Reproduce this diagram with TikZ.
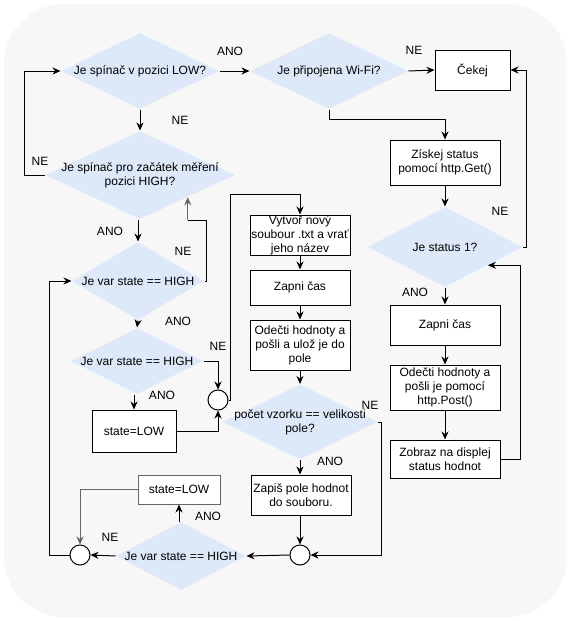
\documentclass[tikz,border=0pt]{standalone}
\usepackage{fontspec}
\setmainfont{Liberation Sans}
\usetikzlibrary{shapes.geometric,arrows.meta,calc}
\definecolor{bgcol}{HTML}{F7F7F8}
\definecolor{diacol}{HTML}{DDE8F9}

\begin{document}
\begin{tikzpicture}[x=1pt, y=-1pt, font=\fontsize{12}{14}\selectfont, line width=1pt,
		>={Stealth[length=8pt,width=7pt]},
		dia/.style={diamond, aspect=2, fill=diacol, inner sep=-10pt, align=center},
		box/.style={rectangle, draw, fill=white, inner sep=0pt, align=center},
		junc/.style={circle, draw, fill=white, inner sep=0pt, minimum size=20pt},
		lbl/.style={inner sep=0pt},
		grayln/.style={draw=black!60}]
		\fill[bgcol, rounded corners=60pt] (4,4) rectangle (567,617);
		\useasboundingbox (0,0) rectangle (571,621);
		\node[dia, minimum width=158pt, minimum height=76pt] (q1) at (140,71) {Je spínač v pozici LOW?};
		\node[dia, minimum width=158pt, minimum height=76pt] (q2) at (329,71) {Je připojena Wi-Fi?};
		\node[box, minimum width=75pt, minimum height=40pt] (wait) at (472.5,70) {Čekej};
		\node[box, minimum width=110pt, minimum height=45pt] (get) at (445,162.5) {Získej status\\pomocí http.Get()};
		\node[dia, minimum width=155pt, minimum height=80pt] (q3) at (445,247) {Je status 1?};
		\node[box, minimum width=110pt, minimum height=40pt] (timeR) at (445,325) {Zapni čas};
		\node[box, minimum width=110pt, minimum height=45pt] (readR) at (445,387.5) {Odečti hodnoty a\\pošli je pomocí\\http.Post()};
		\node[box, minimum width=110pt, minimum height=38pt] (show) at (445,459) {Zobraz na displej\\status hodnot};
		\node[dia, minimum width=190pt, minimum height=88pt] (q4) at (140,175) {Je spínač pro začátek měření\\pozici HIGH?};
		\node[dia, minimum width=132pt, minimum height=78pt] (q5) at (138,281) {Je var state == HIGH};
		\node[dia, minimum width=132pt, minimum height=66pt] (q6) at (137,361) {Je var state == HIGH};
		\node[box, minimum width=84pt, minimum height=42pt] (low1) at (134,431) {state=LOW};
		\node[junc] (c1) at (218,400) {};
		\node[box, minimum width=100pt, minimum height=40pt, inner xsep=-3pt] (make) at (300,235) {Vytvoř nový\\soubour .txt a vrať\\jeho název};
		\node[box, minimum width=100pt, minimum height=35pt] (timeM) at (300,287.5) {Zapni čas};
		\node[box, minimum width=100pt, minimum height=50pt] (readM) at (300,345) {Odečti hodnoty a\\pošli a ulož je do\\pole};
		\node[dia, minimum width=155pt, minimum height=75pt] (q7) at (300,422) {počet vzorku == velikosti\\pole?};
		\node[box, minimum width=100pt, minimum height=40pt] (save) at (301,495) {Zapiš pole hodnot\\do souboru.};
		\node[junc] (c3) at (300,555) {};
		\node[dia, minimum width=130pt, minimum height=68pt] (q8) at (181,556) {Je var state == HIGH};
		\node[box, grayln, minimum width=82pt, minimum height=29pt] (low2) at (179,489.5) {state=LOW};
		\node[junc] (c2) at (80,555) {};
		\foreach \t/\x/\y [count=\i] in {ANO/230/51, NE/414/50, NE/180/120, NE/40/161, ANO/110/231, NE/183/251, ANO/178/321, NE/218/346, ANO/162/395, NE/370/405, ANO/330/461, ANO/208/516, NE/110/537, NE/500/211, ANO/415/292}
			\node[lbl] (lab\i) at (\x,\y) {\t};
		\coordinate (q3in) at ($(q3.east)!0.45!(q3.south)$);
		\coordinate (q4in) at ($(q4.east)!0.5!(q4.south)$);
		\coordinate (q4turn) at ([yshift=-23pt]q4in);
		\draw[->] (q1.east) -- (q2.west);
		\draw[->] (q2.east) -- (wait.west);
		\draw[->] (q2.south) -- ++(0,10) -| (get.north);
		\draw[->] (get.south) -- (q3.north);
		\draw[->] (q3.east) -- ++(3,0) |- (wait.east);
		\draw[->] (q3.south) -- (timeR.north);
		\draw[->] (timeR.south) -- (readR.north);
		\draw[->] (readR.south) -- (show.north);
		\draw[->] (show.east) -- ++(20,0) |- (q3in);
		\draw[->] (q1.south) -- (q4.north);
		\draw[->] (q4.west) -- ++(-20,0) |- (q1.west);
		\draw[->] (q5.north |- q4.south) -- (q5.north);
		\draw (q5.east) -- ++(2,0) |- (q4turn);
		\draw[->, grayln] (q4turn) -- (q4in);
		\draw[->] (q5.south) -- (q6.north);
		\draw[->] (q6.east) -| (c1.north);
		\draw[->] (low1.north |- q6.south) -- (low1.north);
		\draw[->] (low1.east) -| (c1.south);
		\draw[->] (c1.east) -- ++(2,0) |- ([yshift=20pt]make.north) -- (make.north);
		\draw[->] (make.south) -- (timeM.north);
		\draw[->] (timeM.south) -- (readM.north);
		\draw[->] (readM.south) -- (q7.north);
		\draw[->] (q7.south) -- (q7.south |- save.north);
		\draw[->] (q7.east) -- ++(3,0) |- (c3.east);
		\draw[->] (c3.north |- save.south) -- (c3.north);
		\draw[->] (c3.west) -- (q8.east);
		\draw[->] (low2.south |- q8.north) -- (low2.south);
		\draw[->, grayln] (low2.west) -| (c2.north);
		\draw[->] (q8.west) -- (c2.east);
		\draw[->] (c2.west) -- ++(-20,0) |- (q5.west);
	\end{tikzpicture}
\end{document}
